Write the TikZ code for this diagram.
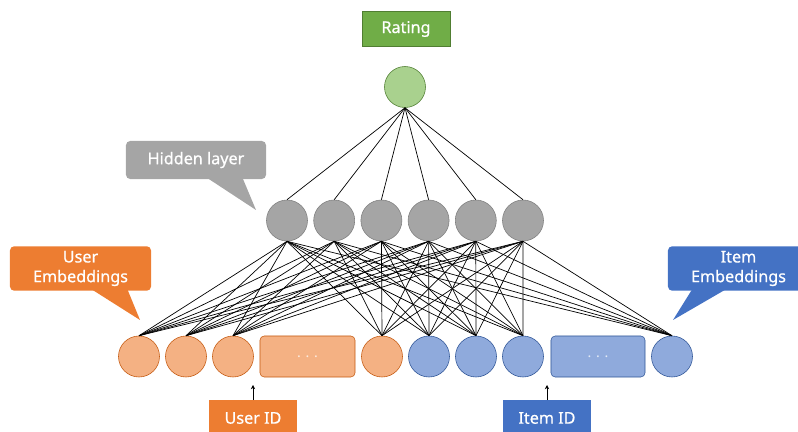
\documentclass[tikz,border=0pt]{standalone}
\usepackage{fontspec}
\setmainfont{Noto Sans}
\newfontfamily\labelfont{Noto Sans}[FakeBold=0.6]
\usetikzlibrary{calc,arrows.meta}
\definecolor{usercol}{HTML}{ED7D31}
\definecolor{userfill}{HTML}{F4B183}
\definecolor{userdraw}{HTML}{C55A11}
\definecolor{itemcol}{HTML}{4472C4}
\definecolor{itemfill}{HTML}{8FAADC}
\definecolor{itemdraw}{HTML}{2F5597}
\definecolor{hiddenfill}{HTML}{A5A5A5}
\definecolor{hiddendraw}{HTML}{7F7F7F}
\definecolor{ratingcol}{HTML}{70AD47}
\definecolor{ratingfill}{HTML}{A9D18E}
\definecolor{ratingdraw}{HTML}{507E32}
\begin{document}
\begin{tikzpicture}[x=0.025cm, y=-0.025cm,
user/.style={circle, draw=userdraw, fill=userfill, minimum size=1.025cm, inner sep=0pt},
userdots/.style={rectangle, rounded corners=3pt, draw=userdraw, fill=userfill, minimum width=2.375cm, minimum height=1.025cm, text=white!75!userfill},
item/.style={circle, draw=itemdraw, fill=itemfill, minimum size=1.025cm, inner sep=0pt},
itemdots/.style={rectangle, rounded corners=3pt, draw=itemdraw, fill=itemfill, minimum width=2.35cm, minimum height=1.025cm, text=white!75!itemfill},
hidden/.style={circle, draw=hiddendraw, fill=hiddenfill, minimum size=1.025cm, inner sep=0pt},
output/.style={circle, draw=ratingdraw, fill=ratingfill, minimum size=1.025cm, inner sep=0pt},
idbox/.style={rectangle, text=white, minimum width=2.2cm, minimum height=0.875cm, font=\labelfont\fontsize{11.5}{13}\selectfont},
bubble/.style={rectangle, rounded corners=3pt, text=white, align=center, minimum width=3.525cm, minimum height=0.975cm, font=\labelfont\fontsize{11.5}{14}\selectfont},
edge/.style={draw=black, line width=0.5pt},
]
\useasboundingbox (0,0) rectangle (798,432);

\node[idbox, fill=ratingcol, draw=ratingdraw] (rating) at (406,29) {Rating};
\node[output] (R) at (405,87) {};

\foreach \i in {1,...,6}
  \node[hidden] (H\i) at ({287+47.2*(\i-1)},220.5) {};

\node[user] (U1) at (139,356.5) {};
\node[user] (U2) at (186,356.5) {};
\node[user] (U3) at (233,356.5) {};
\node[userdots] (Ud) at (307.5,356.5) {.\,\,.\,\,.};
\node[user] (U4) at (382,356.5) {};
\node[item] (I1) at (429,356.5) {};
\node[item] (I2) at (476,356.5) {};
\node[item] (I3) at (523,356.5) {};
\node[itemdots] (Id) at (598,356.5) {.\,\,.\,\,.};
\node[item] (I4) at (672,356.5) {};

\foreach \i in {1,...,6} {
  \draw[edge] (R.south) -- (H\i.north);
  \foreach \b in {U1,U2,U3,U4,I1,I2,I3,I4}
    \draw[edge] (\b.north) -- (H\i.south);
}

\node[bubble, fill=hiddenfill, minimum width=3.5cm, minimum height=0.95cm] (hl) at (196,160) {Hidden layer};
\coordinate (hltip) at (256,210);
\fill[hiddenfill] ($(hl.south west)+(82,-1)$) -- (hltip) -- ($(hl.south west)+(117,-1)$) -- cycle;

\node[bubble, fill=usercol] (ue) at (80.5,268.5) {User\\Embeddings};
\coordinate (uetip) at (140,320);
\fill[usercol] ($(ue.south west)+(83,-1)$) -- (uetip) -- ($(ue.south west)+(118,-1)$) -- cycle;

\node[bubble, fill=itemcol] (ie) at (738.5,268.5) {Item\\Embeddings};
\coordinate (ietip) at (673,320);
\fill[itemcol] ($(ie.south west)+(24,-1)$) -- (ietip) -- ($(ie.south west)+(57,-1)$) -- cycle;

\node[idbox, fill=usercol] (uid) at (253,418) {User ID};
\coordinate (uidtip) at (253,385);
\draw[-{Stealth[length=3pt,width=3pt]}] (uid.north) -- (uidtip);

\node[idbox, fill=itemcol] (iid) at (547,418) {Item ID};
\coordinate (iidtip) at (547,385);
\draw[-{Stealth[length=3pt,width=3pt]}] (iid.north) -- (iidtip);
\end{tikzpicture}
\end{document}
